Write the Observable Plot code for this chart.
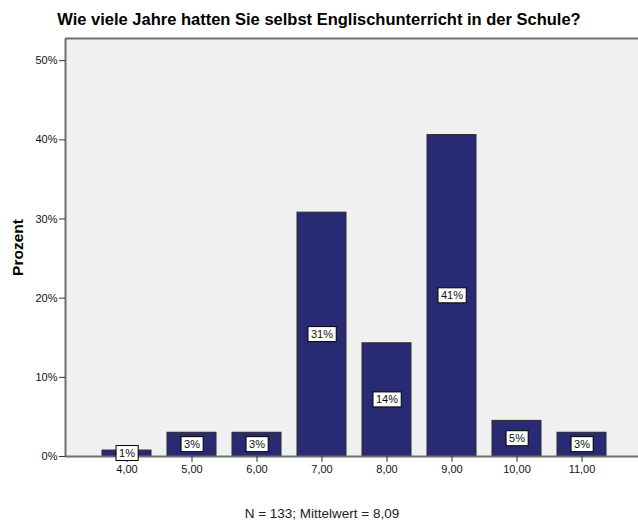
<!DOCTYPE html>
<html>
<head>
<meta charset="utf-8">
<script src="https://cdn.jsdelivr.net/npm/d3@7"></script>
<script src="https://cdn.jsdelivr.net/npm/@observablehq/plot@0.6"></script>
<style>
  html, body { margin: 0; padding: 0; background: #fff; overflow: hidden; }
  #wrap { position: relative; width: 638px; height: 531px; overflow: hidden; font-family: "Liberation Sans", Arial, sans-serif; }
  #title { position: absolute; left: 0; width: 638px; top: 10px; text-align: center; font-weight: bold; font-size: 16.5px; color: #000; white-space: nowrap; }
  #foot { position: absolute; left: 3px; width: 638px; top: 506px; text-align: center; font-size: 13.5px; color: #222; }
  #wrap svg { position: absolute; left: 0; top: 0; overflow: hidden; }
</style>
</head>
<body>
<div id="wrap">
  <div id="chart"></div>
  <div id="title"></div>
  <div id="foot"></div>
</div>
<script>
// Data
const categories = ["4,00", "5,00", "6,00", "7,00", "8,00", "9,00", "10,00", "11,00"];
const percents = [0.75, 3.0, 3.0, 30.8, 14.3, 40.6, 4.5, 3.0];
const yTicks = [0, 10, 20, 30, 40, 50];
const titleText = "Wie viele Jahre hatten Sie selbst Englischunterricht in der Schule?";
const yLabel = "Prozent";
const footText = "N = 133; Mittelwert = 8,09";

const data = categories.map((c, i) => ({cat: c, pct: percents[i], label: Math.round(percents[i]) + "%"}));

document.getElementById("title").textContent = titleText;
document.getElementById("foot").textContent = footText;

const axisColor = "#6e6e6e";
const W = 638, H = 531, mT = 38, mB = 75, mL = 65, mR = 0;
const fw = W - mL - mR, fh = H - mT - mB;

const chart = Plot.plot({
  width: W,
  height: H,
  marginTop: mT,
  marginBottom: mB,
  marginLeft: mL,
  marginRight: mR,
  style: {fontFamily: "Liberation Sans, Arial, sans-serif", fontSize: "11px", background: "transparent", color: "#111", overflow: "hidden"},
  x: {domain: categories, range: [85.25, 623.05], padding: 0.25},
  y: {domain: [0, 52.8]},
  marks: [
    Plot.frame({fill: "#f0f0f0", stroke: "none"}),
    Plot.barY(data, {x: "cat", y: "pct", fill: "#282a73", stroke: "#2a2a2a", strokeWidth: 1}),
    Plot.ruleY([0, 52.8], {stroke: axisColor, strokeWidth: 2}),
    // left edge of the frame only
    Plot.frame({stroke: axisColor, strokeWidth: 2, strokeDasharray: `0 ${2 * fw + fh} ${fh} 0`}),
    Plot.axisY({ticks: yTicks, tickFormat: d => d + "%", tickSize: 6, tickPadding: 2, label: null, stroke: "#333", fontSize: 11}),
    Plot.axisX({tickSize: 6, tickPadding: 3, label: null, stroke: "#333", fontSize: 11}),
    Plot.text([yLabel], {frameAnchor: "left", textAnchor: "middle", rotate: -90, dx: -47, fontWeight: "bold", fontSize: 15.5, fill: "#000"}),
    Plot.text(data, {x: "cat", y: d => d.pct / 2, text: "label", fill: "#111", fontSize: 11, ariaLabel: "bar-label"})
  ]
});

document.getElementById("chart").appendChild(chart);

// White boxes with black border behind the bar labels
const lblGroup = chart.querySelector('g[aria-label="bar-label"]') || Array.from(chart.querySelectorAll('g[aria-label="text"]')).pop();
if (lblGroup) {
  lblGroup.querySelectorAll("text").forEach(t => {
    const bb = t.getBBox();
    const r = document.createElementNS("http://www.w3.org/2000/svg", "rect");
    r.setAttribute("x", bb.x - 3);
    r.setAttribute("y", bb.y - 1.5);
    r.setAttribute("width", bb.width + 6);
    r.setAttribute("height", bb.height + 3);
    r.setAttribute("fill", "#fff");
    r.setAttribute("stroke", "#000");
    r.setAttribute("stroke-width", 1);
    const tr = t.getAttribute("transform");
    if (tr) r.setAttribute("transform", tr);
    t.parentNode.insertBefore(r, t);
  });
}
</script>
</body>
</html>
